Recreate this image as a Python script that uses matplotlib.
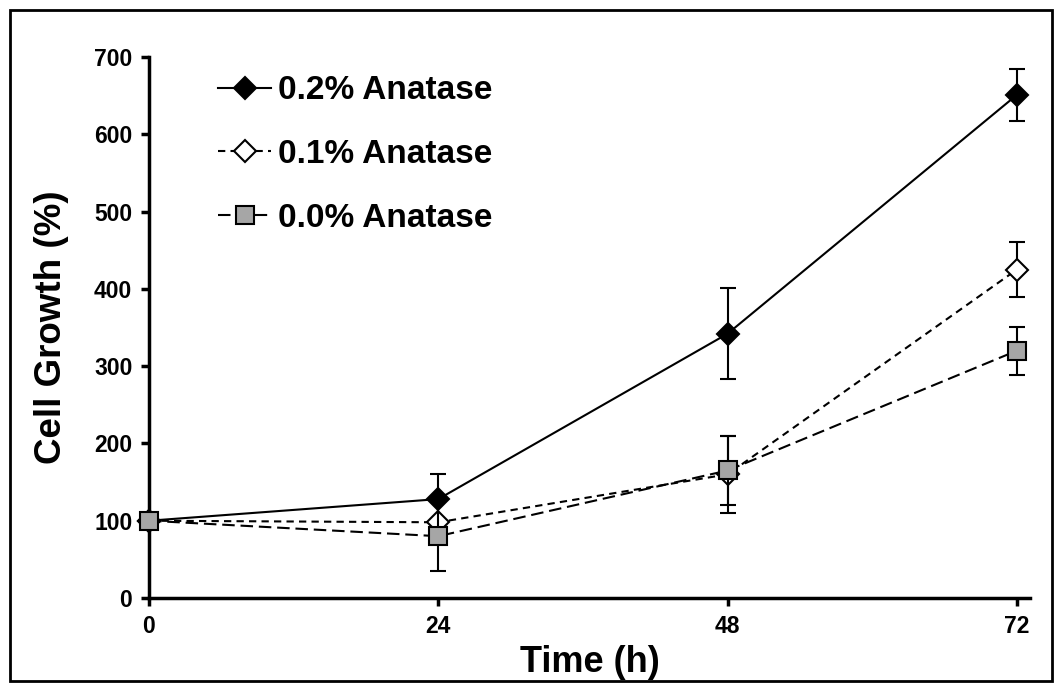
import matplotlib.pyplot as plt
from matplotlib.patches import Rectangle

plt.rcParams['font.family'] = ['Liberation Sans', 'DejaVu Sans']
plt.rcParams['font.weight'] = 'bold'

hours = [0, 24, 48, 72]
growth_02 = [100, 128, 342, 651]
err_02 = [0, 32, 59, 34]
growth_01 = [100, 98, 160, 425]
err_01 = [0, 0, 50, 36]
growth_00 = [100, 80, 165, 320]
err_00 = [0, 45, 45, 31]
labels = ['0.2% Anatase', '0.1% Anatase', '0.0% Anatase']

fig = plt.figure(figsize=(10.62, 6.90), dpi=100)
ax = fig.add_axes([0.1403, 0.1333, 0.8297, 0.7841])

common = dict(capsize=6, elinewidth=1.5, capthick=1.8, ecolor='black',
              linewidth=1.5, color='black', markeredgecolor='black',
              markeredgewidth=1.5)
c02 = ax.errorbar(hours, growth_02, yerr=err_02, marker='D', markersize=11,
                  markerfacecolor='black', linestyle='-', zorder=3, **common)
c01 = ax.errorbar(hours, growth_01, yerr=err_01, marker='D', markersize=11,
                  markerfacecolor='white', dashes=(3.5, 2.5), zorder=4, **common)
c00 = ax.errorbar(hours, growth_00, yerr=err_00, marker='s', markersize=13,
                  markerfacecolor='#a6a6a6', dashes=(6, 2.8), zorder=5, **common)
for c in (c02, c01, c00):
    c.lines[0].set_clip_on(False)

ax.set_xlim(0, 73.1)
ax.set_ylim(0, 700)
ax.set_xticks(hours)
ax.set_yticks(range(0, 701, 100))
for s in ['top', 'right']:
    ax.spines[s].set_visible(False)
for s in ['left', 'bottom']:
    ax.spines[s].set_linewidth(2.5)
ax.tick_params(axis='both', direction='out', length=6, width=2.5,
               labelsize=16.5, pad=6)
ax.set_xlabel('Time (h)', fontsize=26, fontweight='bold', labelpad=5)
ax.set_ylabel('Cell Growth (%)', fontsize=26.5, fontweight='bold', labelpad=18)

handles = [c02.lines[0], c01.lines[0], c00.lines[0]]
fig.legend(handles, labels, loc='upper left',
           bbox_to_anchor=(0.2053, 0.891), frameon=False,
           handlelength=1.6, handletextpad=0.2, labelspacing=0.98,
           borderpad=0, borderaxespad=0,
           prop={'weight': 'bold', 'size': 24})

fig.patches.append(Rectangle((0.009, 0.013), 0.982, 0.973,
                             transform=fig.transFigure, fill=False,
                             edgecolor='black', linewidth=2))

fig.savefig('out.png', dpi=100)
